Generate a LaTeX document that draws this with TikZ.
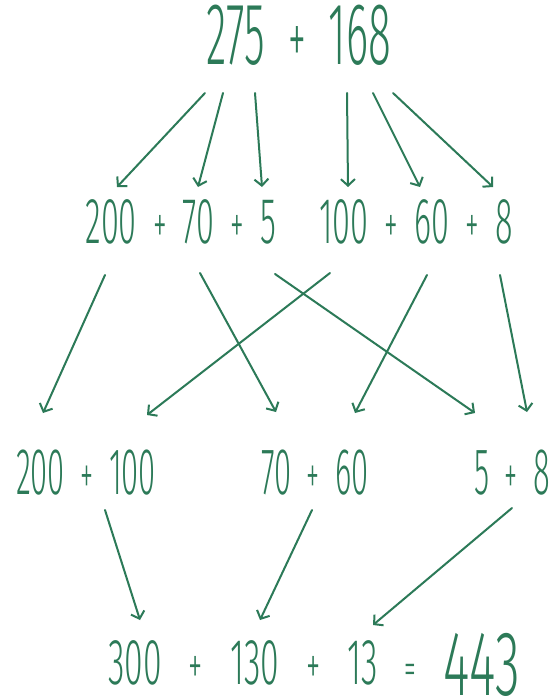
\documentclass[tikz,border=0pt]{standalone}
\usepackage{graphicx}
\usepackage{fontspec}
\newfontfamily\thinf{Fira Sans Light}
\usetikzlibrary{arrows.meta}
\definecolor{gr}{RGB}{44,122,88}
\newcommand\pl[1][0.5em]{\hspace{#1}\scalebox{0.85}{+}\hspace{#1}}
\newcommand\eqs[1][0.5em]{\hspace{#1}\scalebox{0.7}{=}\hspace{#1}}
\newcommand\nar[3]{\scalebox{#1}[1]{\fontsize{#2}{#2}\selectfont\thinf #3}}
\tikzset{
  num/.style={text=gr, inner sep=0pt, anchor=base},
  arr/.style={draw=gr, line width=2pt, line cap=round, -{Straight Barb[length=6.5pt,width=14pt]}}
}
\begin{document}
\begin{tikzpicture}[x=1pt,y=-1pt]
\useasboundingbox (0,0) rectangle (553,698);
\fill[white] (0,0) rectangle (553,698);
% numbers
\node[num] (top) at (299,65) {\nar{0.48}{88}{275\pl[0.55em]168}};
\node[num] (ra) at (181,243) {\nar{0.5}{65}{200\pl70\pl5}};
\node[num] (rb) at (416,243) {\nar{0.5}{65}{100\pl60\pl8}};
\node[num] (c1) at (86,494) {\nar{0.47}{66}{200\pl100}};
\node[num] (c2) at (315,494) {\nar{0.47}{66}{70\pl60}};
\node[num] (c3) at (512,494) {\nar{0.47}{66}{5\pl8}};
\node[num] (res) at (314,684) {\nar{0.52}{65}{300\pl[0.8em]130\pl[0.8em]13\eqs[0.8em]\raisebox{-11pt}{\scalebox{1.06}[1]{\fontsize{92}{92}\selectfont 443}}}};
% arrow end points
\coordinate (t1) at (205,93);  \coordinate (a1) at (117,187);
\coordinate (t2) at (223,93);  \coordinate (a2) at (198,187);
\coordinate (t3) at (255,93);  \coordinate (a3) at (262,187);
\coordinate (t4) at (347,93);  \coordinate (b1) at (348,187);
\coordinate (t5) at (373,93);  \coordinate (b2) at (420,187);
\coordinate (t6) at (393,93);  \coordinate (b3) at (493,187);
\coordinate (s1) at (105,275); \coordinate (e1) at (43,413);
\coordinate (s2) at (200,273); \coordinate (e2) at (276,412);
\coordinate (s3) at (330,273); \coordinate (e3) at (147,415);
\coordinate (s4) at (275,274); \coordinate (e4) at (475,413);
\coordinate (s5) at (427,275); \coordinate (e5) at (355,413);
\coordinate (s6) at (500,275); \coordinate (e6) at (527,412);
\coordinate (u1) at (105,510); \coordinate (f1) at (140,620);
\coordinate (u2) at (312,510); \coordinate (f2) at (260,620);
\coordinate (u3) at (512,508); \coordinate (f3) at (373,625);
% arrows
\foreach \a/\b in {t1/a1,t2/a2,t3/a3,t4/b1,t5/b2,t6/b3,s1/e1,s2/e2,s3/e3,s4/e4,s5/e5,s6/e6,u1/f1,u2/f2,u3/f3}
  \draw[arr] (\a) -- (\b);
\end{tikzpicture}
\end{document}
